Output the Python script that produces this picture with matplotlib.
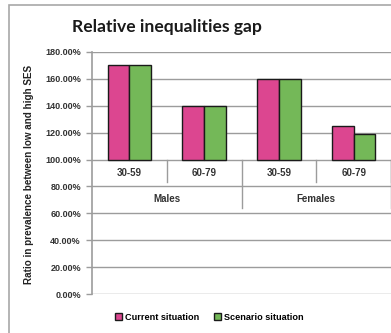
import matplotlib.pyplot as plt
from matplotlib.patches import Rectangle

# ratio of prevalence (low vs high SES), in percent
ages = ["30-59", "60-79", "30-59", "60-79"]
sexes = ["Males", "Females"]
current = [170, 140, 160, 125]
scenario = [170, 140, 160, 119]
yticks = [0, 20, 40, 60, 80, 100, 120, 140, 160, 180]

PINK = "#DC4690"
GREEN = "#74B858"
GRID = "#9C9C9C"

fig = plt.figure(figsize=(3.91, 3.33), dpi=100)
fig.patch.set_facecolor("white")

# chart frame (runs off the right and bottom edges)
fig.patches.append(Rectangle((9 / 391, -0.1), 1.2, 1 - 5 / 333 + 0.1,
                             transform=fig.transFigure, fill=False,
                             edgecolor="#A8A8A8", lw=1.2))

ax = fig.add_axes([92 / 391, 1 - 294 / 333, 299 / 391, 242 / 333])
ax.set_xlim(-0.5, 3.5)
ax.set_ylim(0, 180)

for y in yticks:
    ax.axhline(y, color=GRID, lw=1, zorder=1)

w = 0.29
x = range(len(ages))
base = 100
ax.bar([i - w / 2 for i in x], [v - base for v in current], w, bottom=base,
       color=PINK, edgecolor="#1A1A1A", lw=1, zorder=3, label="Current situation")
ax.bar([i + w / 2 for i in x], [v - base for v in scenario], w, bottom=base,
       color=GREEN, edgecolor="#1A1A1A", lw=1, zorder=3, label="Scenario situation")

# two-level category axis hanging below the 100% line
lab_font = dict(fontsize=7, fontweight="bold", color="#333333",
                family="Liberation Sans", ha="center", va="center")
for i, a in enumerate(ages):
    ax.text(i, 90, a, **lab_font)
for j, s in enumerate(sexes):
    ax.text(2 * j + 0.5, 70.5, s, **lab_font)
for b in [0.5, 2.5, 3.5]:
    ax.plot([b, b], [100, 83], color=GRID, lw=1, zorder=2, clip_on=False)
for b in [1.5, 3.5]:
    ax.plot([b, b], [100, 64], color=GRID, lw=1, zorder=2, clip_on=False)

ax.set_yticks(yticks)
ax.set_yticklabels([f"{t:.2f}%" for t in yticks], fontsize=6.5,
                   fontweight="bold", family="Liberation Sans", color="#333333")
ax.tick_params(axis="y", length=4, width=1, color=GRID, pad=4)
ax.set_xticks([])
for side in ["top", "right", "bottom"]:
    ax.spines[side].set_visible(False)
ax.spines["left"].set_color(GRID)
ax.spines["left"].set_linewidth(1.2)

fig.text(29 / 391, 1 - 174 / 333, "Ratio in prevalence between low and high SES",
         rotation=90, ha="center", va="center", fontsize=7.1, fontweight="bold",
         family="Liberation Sans", color="#222222")

fig.text(72 / 391, 1 - 27 / 333, "Relative inequalities gap", ha="left",
         va="center", fontsize=12.6, fontweight="bold", family="Lato",
         color="#1A1A1A")

ax.legend(loc="center", bbox_to_anchor=(209 / 391, 1 - 317 / 333),
          bbox_transform=fig.transFigure, ncol=2, frameon=False,
          prop=dict(family="Liberation Sans", size=6.6, weight="bold"),
          handlelength=0.8, handleheight=0.8, handletextpad=0.3,
          columnspacing=1.6)

fig.savefig("out.png", dpi=100)
